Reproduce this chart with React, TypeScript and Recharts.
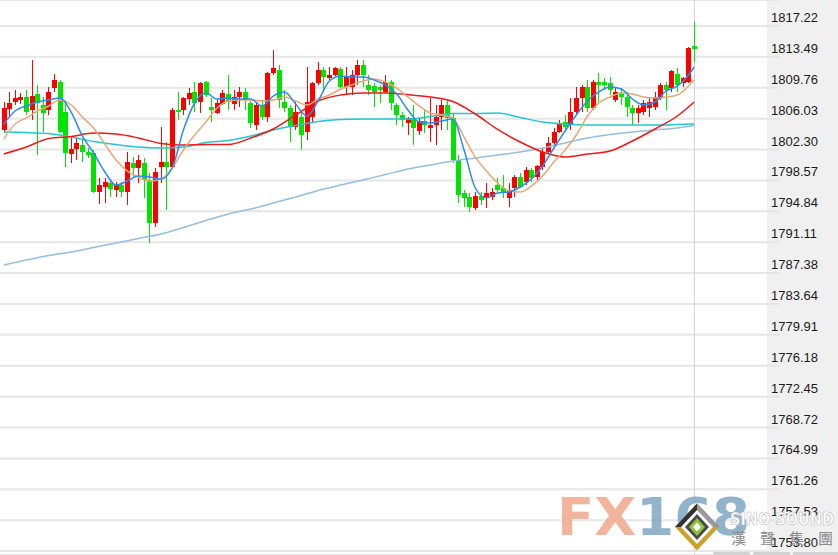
import React from 'react';
import { ComposedChart, Bar, Line, XAxis, YAxis, CartesianGrid } from 'recharts';

// ---- candle data (one entry per candle, oldest first) ----
const openPrices = [
  1804.66, 1807.19, 1808.04, 1808.28, 1808.64, 1807.07, 1809.00, 1807.68, 1807.07, 1809.73,
  1810.45, 1806.83, 1801.76, 1802.36, 1802.84, 1802.00, 1801.88, 1797.17, 1797.77, 1798.25,
  1797.41, 1798.01, 1797.17, 1800.67, 1800.07, 1800.67, 1798.62, 1793.42, 1800.19, 1800.79,
  1800.19, 1807.07, 1807.07, 1808.40, 1809.25, 1808.04, 1810.45, 1807.43, 1806.71, 1807.80,
  1809.00, 1807.80, 1808.64, 1809.25, 1807.92, 1805.26, 1807.68, 1806.23, 1811.54, 1811.90,
  1808.04, 1807.31, 1805.02, 1806.23, 1804.41, 1806.23, 1810.33, 1811.90, 1810.94, 1811.30,
  1812.02, 1809.85, 1809.85, 1811.30, 1812.51, 1810.09, 1809.97, 1809.85, 1809.25, 1810.45,
  1807.68, 1806.47, 1805.50, 1806.11, 1804.54, 1805.74, 1804.90, 1805.26, 1806.23, 1807.68,
  1806.11, 1801.03, 1797.05, 1796.56, 1795.23, 1796.68, 1796.44, 1796.56, 1798.01, 1797.65,
  1796.44, 1797.65, 1798.98, 1798.37, 1799.82, 1798.98, 1800.19, 1802.00, 1803.09, 1804.41,
  1805.62, 1805.26, 1806.83, 1808.52, 1809.85, 1807.31, 1810.45, 1810.45, 1810.33, 1808.28,
  1809.13, 1808.64, 1807.31, 1806.71, 1806.83, 1807.31, 1807.43, 1808.52, 1810.09, 1809.73,
  1811.42, 1810.33, 1810.45, 1814.80,
];
const highPrices = [
  1808.04, 1809.25, 1809.49, 1809.13, 1809.49, 1813.11, 1810.09, 1808.64, 1809.85, 1811.42,
  1810.70, 1808.28, 1803.69, 1803.69, 1803.45, 1802.48, 1802.24, 1798.86, 1798.86, 1798.62,
  1798.37, 1798.37, 1802.00, 1801.39, 1801.64, 1801.27, 1799.46, 1800.07, 1805.02, 1803.21,
  1807.31, 1809.25, 1808.64, 1809.73, 1810.45, 1810.45, 1810.57, 1808.52, 1808.28, 1809.49,
  1811.30, 1809.49, 1809.85, 1809.73, 1808.16, 1807.92, 1808.28, 1811.66, 1814.32, 1812.51,
  1809.49, 1807.68, 1808.04, 1806.83, 1812.27, 1810.45, 1812.87, 1812.27, 1812.27, 1812.27,
  1812.27, 1812.27, 1811.90, 1813.11, 1813.11, 1811.30, 1810.33, 1810.09, 1811.30, 1810.70,
  1807.92, 1806.83, 1806.23, 1807.68, 1806.11, 1807.07, 1808.52, 1807.68, 1808.28, 1808.28,
  1806.71, 1801.64, 1797.41, 1797.05, 1797.17, 1797.17, 1798.25, 1797.65, 1798.86, 1799.22,
  1798.25, 1799.22, 1799.46, 1800.19, 1800.07, 1800.43, 1802.48, 1803.81, 1804.90, 1805.86,
  1806.47, 1808.52, 1809.85, 1810.09, 1810.70, 1810.70, 1811.54, 1810.94, 1811.06, 1809.73,
  1809.73, 1809.25, 1807.68, 1807.68, 1808.28, 1808.52, 1809.25, 1810.33, 1810.45, 1811.90,
  1812.15, 1811.06, 1814.68, 1817.70,
];
const lowPrices = [
  1804.29, 1806.23, 1807.68, 1807.80, 1806.47, 1805.86, 1801.64, 1804.41, 1806.47, 1809.25,
  1804.29, 1800.19, 1800.67, 1801.03, 1800.79, 1801.27, 1797.05, 1795.72, 1795.84, 1796.56,
  1796.56, 1796.56, 1795.60, 1798.98, 1798.25, 1796.44, 1791.01, 1792.94, 1798.25, 1794.99,
  1800.07, 1805.86, 1806.47, 1807.68, 1806.83, 1806.71, 1808.64, 1805.62, 1806.59, 1807.68,
  1807.07, 1807.07, 1807.43, 1807.07, 1804.90, 1804.66, 1805.86, 1805.62, 1811.30, 1807.31,
  1806.83, 1803.21, 1804.66, 1802.24, 1803.45, 1805.62, 1810.09, 1809.49, 1810.70, 1811.18,
  1809.73, 1808.88, 1808.88, 1810.09, 1809.85, 1808.88, 1807.43, 1807.92, 1809.13, 1807.07,
  1805.26, 1805.02, 1804.05, 1802.84, 1804.05, 1804.29, 1803.21, 1802.84, 1804.66, 1804.66,
  1800.67, 1795.84, 1795.35, 1794.75, 1794.99, 1795.60, 1795.23, 1796.20, 1797.05, 1796.44,
  1795.35, 1796.56, 1797.65, 1798.01, 1798.37, 1798.62, 1799.82, 1801.88, 1802.84, 1804.29,
  1804.66, 1804.66, 1806.47, 1806.83, 1806.83, 1807.07, 1808.04, 1809.49, 1808.88, 1808.04,
  1807.68, 1806.23, 1805.26, 1805.50, 1806.47, 1806.23, 1807.07, 1808.28, 1807.07, 1809.25,
  1809.25, 1809.85, 1810.33, 1812.87,
];
const closePrices = [
  1807.31, 1807.92, 1808.52, 1808.64, 1806.83, 1808.76, 1807.92, 1806.71, 1809.25, 1810.70,
  1804.41, 1801.88, 1802.36, 1803.09, 1802.00, 1801.64, 1797.17, 1798.01, 1798.37, 1797.53,
  1798.01, 1797.17, 1800.79, 1800.07, 1801.03, 1798.62, 1793.42, 1799.58, 1800.79, 1800.19,
  1807.07, 1806.83, 1808.52, 1809.13, 1807.92, 1810.33, 1808.88, 1807.07, 1807.92, 1809.13,
  1808.04, 1808.64, 1809.25, 1808.28, 1805.50, 1807.68, 1806.23, 1811.54, 1812.15, 1808.28,
  1807.31, 1805.02, 1806.83, 1804.05, 1808.04, 1810.33, 1811.90, 1811.06, 1811.30, 1812.15,
  1809.85, 1811.06, 1811.30, 1812.51, 1811.30, 1809.49, 1809.25, 1809.49, 1810.45, 1807.92,
  1806.47, 1805.86, 1806.11, 1804.90, 1805.74, 1805.26, 1805.26, 1806.23, 1807.68, 1806.11,
  1801.03, 1796.80, 1796.44, 1795.35, 1796.68, 1796.20, 1797.05, 1797.17, 1797.41, 1797.05,
  1797.41, 1798.98, 1797.77, 1799.82, 1798.86, 1800.31, 1802.00, 1803.09, 1804.41, 1805.50,
  1805.02, 1806.83, 1808.52, 1809.85, 1807.31, 1810.45, 1810.09, 1810.09, 1809.49, 1809.25,
  1808.64, 1807.43, 1806.71, 1807.31, 1807.92, 1808.04, 1808.64, 1810.09, 1809.49, 1811.78,
  1810.09, 1810.94, 1814.56, 1814.44,
];

// ---- moving averages ----
// ma5 / ma10: one value every 2nd candle, last value = final candle
const ma5 = [
  1805.38, 1806.95, 1807.56, 1808.04, 1808.28, 1808.52, 1806.83, 1803.93, 1801.88, 1799.58,
  1798.01, 1798.50, 1799.10, 1798.98, 1798.74, 1800.07, 1804.66, 1807.92, 1809.13, 1808.40,
  1808.52, 1808.40, 1808.40, 1807.56, 1808.76, 1809.25, 1807.80, 1806.35, 1808.16, 1810.57,
  1811.18, 1811.06, 1811.06, 1810.70, 1810.09, 1809.00, 1807.07, 1805.62, 1805.50, 1805.74,
  1805.98, 1802.24, 1797.65, 1796.44, 1797.05, 1797.17, 1797.77, 1798.74, 1800.31, 1802.48,
  1804.54, 1806.47, 1808.16, 1809.25, 1809.85, 1809.61, 1808.40, 1807.68, 1808.04, 1809.37,
  1809.97, 1811.30, 1812.27,
];
const ma10 = [
  1803.57, 1805.38, 1806.11, 1806.95, 1807.56, 1808.28, 1807.68, 1806.23, 1804.90, 1802.96,
  1801.03, 1799.70, 1798.98, 1798.50, 1798.74, 1800.07, 1802.24, 1804.05, 1805.62, 1807.31,
  1808.16, 1808.28, 1808.28, 1808.16, 1808.28, 1808.64, 1808.16, 1807.68, 1808.40, 1808.88,
  1809.61, 1810.09, 1810.57, 1810.82, 1810.45, 1809.73, 1808.64, 1807.56, 1806.71, 1806.47,
  1806.11, 1803.81, 1801.39, 1799.70, 1798.25, 1797.29, 1797.17, 1797.89, 1799.10, 1800.79,
  1802.24, 1804.05, 1806.35, 1807.92, 1808.64, 1809.13, 1809.00, 1808.64, 1808.52, 1808.64,
  1808.88, 1809.97, 1810.70,
];
// slower averages: one value every 4th candle, last value = final candle
const ma30 = [
  1801.76, 1802.60, 1803.63, 1803.87, 1804.29, 1804.17, 1803.69, 1803.03, 1802.84, 1802.90,
  1802.90, 1803.69, 1804.78, 1806.47, 1808.16, 1808.88, 1809.13, 1809.13, 1808.94, 1808.64,
  1808.10, 1806.59, 1804.72, 1803.21, 1802.00, 1801.39, 1801.76, 1802.12, 1803.33, 1804.78,
  1806.35, 1808.04,
];
const ma60 = [
  1804.41, 1804.35, 1804.23, 1803.81, 1803.27, 1802.90, 1802.60, 1802.48, 1802.60, 1803.15,
  1803.39, 1803.93, 1804.66, 1805.20, 1805.68, 1805.92, 1805.98, 1805.98, 1805.98, 1806.29,
  1806.65, 1806.65, 1806.71, 1806.17, 1805.62, 1805.38, 1805.26, 1805.26, 1805.26, 1805.26,
  1805.32, 1805.38,
];
const ma120 = [
  1788.35, 1788.95, 1789.50, 1789.92, 1790.46, 1791.01, 1791.55, 1792.09, 1792.88, 1793.72,
  1794.51, 1795.11, 1795.84, 1796.56, 1797.35, 1798.01, 1798.62, 1799.28, 1799.94, 1800.43,
  1800.91, 1801.27, 1801.64, 1802.00, 1802.48, 1803.09, 1803.69, 1804.11, 1804.41, 1804.66,
  1804.90, 1805.20,
];

const yTicks = [
  1817.22, 1813.49, 1809.76, 1806.03, 1802.30, 1798.57, 1794.84, 1791.11, 1787.38,
  1783.64, 1779.91, 1776.18, 1772.45, 1768.72, 1764.99, 1761.26, 1757.53, 1753.80,
];
const yDomain = [1753.32, 1820.36];

// ---- build table ----
const N = openPrices.length;
const spread = (arr: number[], step: number) => {
  const out: (number | null)[] = new Array(N).fill(null);
  arr.forEach((v, k) => {
    out[Math.min(k * step, N - 1)] = v;
  });
  return out;
};
const s5 = spread(ma5, 2);
const s10 = spread(ma10, 2);
const s30 = spread(ma30, 4);
const s60 = spread(ma60, 4);
const s120 = spread(ma120, 4);

const data = openPrices.map((o, i) => ({
  i,
  open: o,
  high: highPrices[i],
  low: lowPrices[i],
  close: closePrices[i],
  range: [lowPrices[i], highPrices[i]],
  ma5: s5[i],
  ma10: s10[i],
  ma30: s30[i],
  ma60: s60[i],
  ma120: s120[i],
}));

const UP = '#ff0000';
const DOWN = '#00e400';
const BODY_W = 5;
const CHART_W = 838;
const CHART_H = 555;

const Candle = (props: any) => {
  const { x, y, width, height, payload } = props;
  if (!payload || x == null || y == null) return null;
  const { open, close, high, low, i } = payload;
  const top = Math.min(y, y + height);
  const h = Math.abs(height);
  const ppu = high > low ? h / (high - low) : 0;
  const color = close >= open ? UP : DOWN;
  const bTop = top + (high - Math.max(open, close)) * ppu;
  const bBot = top + (high - Math.min(open, close)) * ppu;
  const cx = x + width / 2;
  const left = Math.round(cx - BODY_W / 2);
  const wx = left + BODY_W / 2;
  return (
    <g>
      {i === N - 1 && (
        <line x1={wx} x2={wx} y1={0} y2={CHART_H} stroke="#d4d4d4" strokeWidth={1} />
      )}
      <line x1={wx} x2={wx} y1={top} y2={top + h} stroke={color} strokeWidth={1} />
      <rect x={left} y={bTop} width={BODY_W} height={Math.max(1, bBot - bTop)} fill={color} />
    </g>
  );
};

const AxisTick = (props: any) => {
  const { y, payload } = props;
  return (
    <text
      x={771}
      y={y - 4}
      fontSize={13}
      fontFamily="'Liberation Sans', Arial, sans-serif"
      fill="#1a1a1a"
    >
      {Number(payload.value).toFixed(2)}
    </text>
  );
};

const NoDot = (p: any) => <g key={`d-${p.index}`} />;

const dia = (cx: number, cy: number, rx: number, ry: number) =>
  `${cx},${cy - ry} ${cx + rx},${cy} ${cx},${cy + ry} ${cx - rx},${cy}`;

export default function App() {
  return (
    <div
      style={{
        position: 'absolute',
        left: 0,
        top: 0,
        width: CHART_W,
        height: CHART_H,
        overflow: 'hidden',
        background: '#ffffff',
      }}
    >
      <div
        style={{
          position: 'absolute',
          left: 767,
          top: 0,
          width: 71,
          height: CHART_H,
          background: '#f0f0f0',
        }}
      />
      <div style={{ position: 'absolute', left: 0, top: 0 }}>
        <ComposedChart
          width={CHART_W}
          height={CHART_H}
          data={data}
          margin={{ top: 0, right: 0, bottom: 0, left: 0 }}
          barCategoryGap={0}
        >
          <CartesianGrid horizontal vertical={false} stroke="#e6e6e6" strokeWidth={2} />
          <XAxis dataKey="i" hide padding={{ left: 1, right: 83 }} />
          <YAxis
            orientation="right"
            type="number"
            width={58}
            domain={yDomain}
            ticks={yTicks}
            interval={0}
            allowDataOverflow
            axisLine={false}
            tickLine={false}
            tick={<AxisTick />}
          />
          <Bar dataKey="range" shape={<Candle />} isAnimationActive={false} />
          <Line type="monotone" dataKey="ma120" stroke="#94bedb" strokeWidth={1.5} dot={NoDot} activeDot={false} connectNulls isAnimationActive={false} />
          <Line type="monotone" dataKey="ma60" stroke="#22c6d0" strokeWidth={1.5} dot={NoDot} activeDot={false} connectNulls isAnimationActive={false} />
          <Line type="monotone" dataKey="ma30" stroke="#f01818" strokeWidth={1.5} dot={NoDot} activeDot={false} connectNulls isAnimationActive={false} />
          <Line type="monotone" dataKey="ma10" stroke="#e8a878" strokeWidth={1.5} dot={NoDot} activeDot={false} connectNulls isAnimationActive={false} />
          <Line type="monotone" dataKey="ma5" stroke="#2a8cf0" strokeWidth={1.5} dot={NoDot} activeDot={false} connectNulls isAnimationActive={false} />
        </ComposedChart>
      </div>
      <svg
        width={CHART_W}
        height={CHART_H}
        style={{ position: 'absolute', left: 0, top: 0, pointerEvents: 'none' }}
      >
        <text
          x={557}
          y={535}
          fontFamily="'DejaVu Sans', sans-serif"
          fontWeight="bold"
          fontSize={52}
          textLength={193}
          lengthAdjust="spacingAndGlyphs"
          opacity={0.85}
        >
          <tspan fill="#f2a88e">FX</tspan>
          <tspan fill="#7fa7c2">168</tspan>
        </text>
        <polygon points={dia(697, 527, 22, 23.5)} fill="#c9a22a" />
        <polygon points="697,503.5 719,527 675,527" fill="#333333" />
        <polygon points="697,503.5 719,527 697,527" fill="#9a9a9a" />
        <polygon points={dia(697, 527, 16, 17)} fill="#ffffff" />
        <polygon points={dia(697, 527, 12, 13)} fill="#4a4a4a" />
        <polygon points={dia(697, 527, 8, 9)} fill="#8cc43e" />
        <polygon points={dia(697, 527, 4, 4.5)} fill="#ffffff" />
        <text
          x={730}
          y={525}
          fontFamily="'DejaVu Sans', sans-serif"
          fontWeight="bold"
          fontSize={18}
          fill="#ffffff"
          stroke="#c0c0c0"
          strokeWidth={0.7}
          textLength={104}
          lengthAdjust="spacingAndGlyphs"
        >
          SINO SOUND
        </text>
        <text
          x={731}
          y={544}
          fontFamily="'Noto Sans CJK TC', sans-serif"
          fontSize={15}
          fill="#8a8a8a"
          textLength={102}
          lengthAdjust="spacing"
        >
          漢聲集團
        </text>
        <rect x={713} y={552} width={37} height={3} fill="#d2d2d2" />
        <rect x={753} y={552} width={37} height={3} fill="#d2d2d2" />
        <rect x={793} y={552} width={45} height={3} fill="#d2d2d2" />
      </svg>
    </div>
  );
}
